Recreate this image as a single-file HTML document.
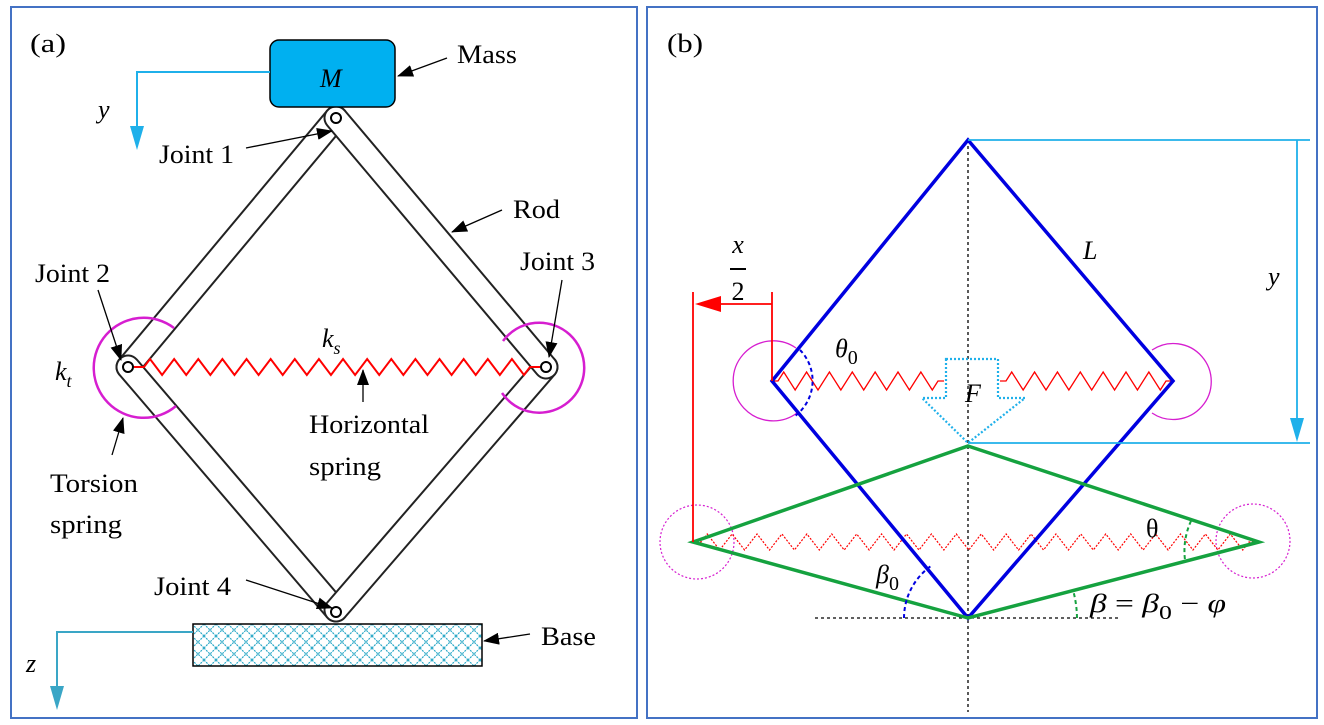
<!DOCTYPE html>
<html><head><meta charset="utf-8">
<style>
html,body{margin:0;padding:0;background:#fff;}
svg{display:block;font-family:"Liberation Serif",serif;}
.lbl{font-size:26px;fill:#000;}
.it{font-style:italic;}
</style></head>
<body>
<svg id="fig" width="1324" height="725" viewBox="0 0 1324 725">
<defs>
<pattern id="hatch" width="12" height="12" patternUnits="userSpaceOnUse">
<path d="M0 0 L12 12 M12 0 L0 12" stroke="#2eaac8" stroke-width="1.2" stroke-dasharray="2 1"/>
</pattern>
<marker id="ab2" markerWidth="16" markerHeight="12" refX="15" refY="6" orient="auto" markerUnits="userSpaceOnUse"><path d="M0 0 L16 6 L0 12 Z" fill="#000"/></marker>
</defs>

<!-- Panel (a) -->
<g>
<rect x="11" y="7" width="626" height="711" fill="none" stroke="#4472c4" stroke-width="2"/>
<text x="30" y="52" class="lbl" textLength="36" lengthAdjust="spacingAndGlyphs">(a)</text>

<g stroke-linecap="round">
<line x1="336" y1="118" x2="128" y2="367" stroke="#222" stroke-width="25"/>
<line x1="336" y1="118" x2="128" y2="367" stroke="#fff" stroke-width="21"/>
<line x1="128" y1="367" x2="336" y2="610" stroke="#222" stroke-width="25"/>
<line x1="128" y1="367" x2="336" y2="610" stroke="#fff" stroke-width="21"/>
<line x1="546" y1="367" x2="336" y2="610" stroke="#222" stroke-width="25"/>
<line x1="546" y1="367" x2="336" y2="610" stroke="#fff" stroke-width="21"/>
<line x1="336" y1="118" x2="546" y2="367" stroke="#222" stroke-width="25"/>
<line x1="336" y1="118" x2="546" y2="367" stroke="#fff" stroke-width="21"/>
</g>
<circle cx="336" cy="118" r="5" fill="#fff" stroke="#000" stroke-width="2"/>
<circle cx="128" cy="367" r="5" fill="#fff" stroke="#000" stroke-width="2"/>
<circle cx="546" cy="367" r="5" fill="#fff" stroke="#000" stroke-width="2"/>
<circle cx="336" cy="612" r="5" fill="#fff" stroke="#000" stroke-width="2"/>

<rect x="270" y="40" width="125" height="67" rx="9" fill="#00b0f0" stroke="#000" stroke-width="1.5"/>
<text x="320" y="87" class="lbl it">M</text>

<rect x="193" y="624" width="289" height="42" fill="url(#hatch)" stroke="#000" stroke-width="1.5"/>

<path id="springA" fill="none" stroke="#f00" stroke-width="2"/>
<path d="M174 328 A50 50 0 1 0 176 406" fill="none" stroke="#d61ed0" stroke-width="2.5"/>
<path d="M503 341 A45 45 0 1 1 502 393" fill="none" stroke="#d61ed0" stroke-width="2.5"/>

<g>
<polyline points="270,72 137,72 137,140" fill="none" stroke="#1fb0ea" stroke-width="2"/>
<path d="M130 126 L144 126 L137 150 Z" fill="#1fb0ea"/>
<text x="98" y="118" class="lbl it">y</text>
</g>
<g>
<polyline points="193,632 57,632 57,695" fill="none" stroke="#3aa6c6" stroke-width="2"/>
<path d="M50 686 L64 686 L57 710 Z" fill="#3aa6c6"/>
<text x="26" y="672" class="lbl it">z</text>
</g>

<g fill="none" stroke="#000" stroke-width="1.3">
<line x1="447" y1="58" x2="398" y2="76" marker-end="url(#ab2)"/>
<line x1="246" y1="148" x2="332" y2="131" marker-end="url(#ab2)"/>
<line x1="502" y1="210" x2="452" y2="232" marker-end="url(#ab2)"/>
<line x1="562" y1="280" x2="549" y2="357" marker-end="url(#ab2)"/>
<line x1="98" y1="290" x2="121" y2="360" marker-end="url(#ab2)"/>
<line x1="363" y1="402" x2="363" y2="370" marker-end="url(#ab2)"/>
<line x1="112" y1="455" x2="123" y2="418" marker-end="url(#ab2)"/>
<line x1="246" y1="580" x2="332" y2="608" marker-end="url(#ab2)"/>
<line x1="530" y1="634" x2="484" y2="641" marker-end="url(#ab2)"/>
</g>
<text x="457" y="63" class="lbl" textLength="60" lengthAdjust="spacingAndGlyphs">Mass</text>
<text x="159" y="163" class="lbl" textLength="75" lengthAdjust="spacingAndGlyphs">Joint 1</text>
<text x="513" y="218" class="lbl" textLength="47" lengthAdjust="spacingAndGlyphs">Rod</text>
<text x="520" y="270" class="lbl" textLength="75" lengthAdjust="spacingAndGlyphs">Joint 3</text>
<text x="35" y="282" class="lbl" textLength="75" lengthAdjust="spacingAndGlyphs">Joint 2</text>
<text x="322" y="347" class="lbl it">k<tspan font-size="18" dy="7">s</tspan></text>
<text x="55" y="380" class="lbl it">k<tspan font-size="18" dy="7">t</tspan></text>
<text x="309" y="433" class="lbl" textLength="120" lengthAdjust="spacingAndGlyphs">Horizontal</text>
<text x="309" y="475" class="lbl" textLength="72" lengthAdjust="spacingAndGlyphs">spring</text>
<text x="50" y="492" class="lbl" textLength="88" lengthAdjust="spacingAndGlyphs">Torsion</text>
<text x="50" y="533" class="lbl" textLength="72" lengthAdjust="spacingAndGlyphs">spring</text>
<text x="154" y="595" class="lbl" textLength="77" lengthAdjust="spacingAndGlyphs">Joint 4</text>
<text x="541" y="645" class="lbl" textLength="55" lengthAdjust="spacingAndGlyphs">Base</text>
</g>

<!-- Panel (b) -->
<g>
<rect x="647" y="7" width="670" height="711" fill="none" stroke="#4472c4" stroke-width="2"/>
<text x="667" y="52" class="lbl" textLength="36" lengthAdjust="spacingAndGlyphs">(b)</text>

<line x1="968" y1="140" x2="968" y2="712" stroke="#000" stroke-width="1.3" stroke-dasharray="3 3"/>
<line x1="815" y1="618" x2="1118" y2="618" stroke="#000" stroke-width="1.3" stroke-dasharray="3 3"/>

<path d="M796 348 A40 40 0 1 0 797 413" fill="none" stroke="#d61ed0" stroke-width="1.3"/>
<path d="M1152 350 A38 38 0 1 1 1152 413" fill="none" stroke="#d61ed0" stroke-width="1.3"/>
<circle cx="697" cy="542" r="37" fill="none" stroke="#d61ed0" stroke-width="1.2" stroke-dasharray="2 2"/>
<circle cx="1253" cy="541" r="37" fill="none" stroke="#d61ed0" stroke-width="1.2" stroke-dasharray="2 2"/>

<path id="springB1" fill="none" stroke="#f00" stroke-width="1.3"/>
<path id="springB2" fill="none" stroke="#f00" stroke-width="1.3"/>
<path id="springB3" fill="none" stroke="#f00" stroke-width="1.2" stroke-dasharray="2 1.5"/>

<polygon points="968,140 1173,381 968,618 772,381" fill="none" stroke="#0000e0" stroke-width="3.5"/>
<polygon points="968,446 1259,542 968,618 693,542" fill="none" stroke="#15a23f" stroke-width="3.5"/>

<polygon points="946,359 998,359 998,398 1025,398 968,443 922,398 946,398" fill="none" stroke="#1fb0ea" stroke-width="2.2" stroke-dasharray="2 2"/>
<text x="965" y="402" class="lbl it">F</text>

<g stroke="#1fb0ea" stroke-width="1.8" fill="none">
<line x1="968" y1="140" x2="1310" y2="140"/>
<line x1="968" y1="443" x2="1310" y2="443"/>
<line x1="1297" y1="140" x2="1297" y2="425"/>
<path d="M1290 418 L1304 418 L1297 442 Z" fill="#1fb0ea" stroke="none"/>
</g>
<text x="1268" y="285" class="lbl it">y</text>

<g stroke="#f00" stroke-width="1.8" fill="none">
<line x1="693" y1="292" x2="693" y2="542"/>
<line x1="772" y1="292" x2="772" y2="381"/>
<line x1="772" y1="304" x2="715" y2="304"/>
<path d="M695 304 L721 296 L721 312 Z" fill="#f00" stroke="none"/>
</g>
<text x="738" y="253" class="lbl it" text-anchor="middle">x</text>
<line x1="730" y1="269" x2="746" y2="269" stroke="#000" stroke-width="2"/>
<text x="738" y="300" class="lbl" text-anchor="middle">2</text>

<path d="M800 350 A44 44 0 0 1 795 416" fill="none" stroke="#0000e0" stroke-width="2" stroke-dasharray="4 3"/>
<path d="M904 618 A64 64 0 0 1 931 566" fill="none" stroke="#0000e0" stroke-width="2" stroke-dasharray="4 3"/>
<path d="M1191 521 A72 72 0 0 0 1185 560" fill="none" stroke="#15a23f" stroke-width="2" stroke-dasharray="4 3"/>
<path d="M1077 618 A110 110 0 0 0 1073 590" fill="none" stroke="#15a23f" stroke-width="2" stroke-dasharray="4 3"/>

<text x="835" y="357" class="lbl it" font-size="28">θ<tspan font-size="20" dy="7" font-style="normal">0</tspan></text>
<text x="1083" y="259" class="lbl it">L</text>
<text x="1146" y="537" class="lbl">θ</text>
<text x="876" y="583" class="lbl it" font-size="28">β<tspan font-size="20" dy="7" font-style="normal">0</tspan></text>
<text x="1090" y="612" class="lbl it" font-size="28" textLength="136" lengthAdjust="spacingAndGlyphs">β <tspan font-style="normal">=</tspan> β<tspan font-size="20" dy="7" font-style="normal">0</tspan><tspan dy="-7" font-style="normal"> − </tspan>φ</text>
</g>
</svg>
<script>
function zig(x1,x2,y,amp,n,lead){
  var d='M'+x1+' '+y+' L'+(x1+lead)+' '+y;
  var w=(x2-x1-2*lead)/n;
  for(var i=0;i<n;i++){
    var xa=x1+lead+i*w;
    d+=' L'+(xa+w/4)+' '+(y-amp)+' L'+(xa+3*w/4)+' '+(y+amp);
  }
  d+=' L'+(x2-lead)+' '+y+' L'+x2+' '+y;
  return d;
}
document.getElementById('springA').setAttribute('d',zig(134,540,367,8,16,10));
document.getElementById('springB1').setAttribute('d',zig(772,944,381,9,7,6));
document.getElementById('springB2').setAttribute('d',zig(1000,1172,381,9,7,6));
document.getElementById('springB3').setAttribute('d',zig(693,1257,542,8,22,8));
</script>
</body></html>
